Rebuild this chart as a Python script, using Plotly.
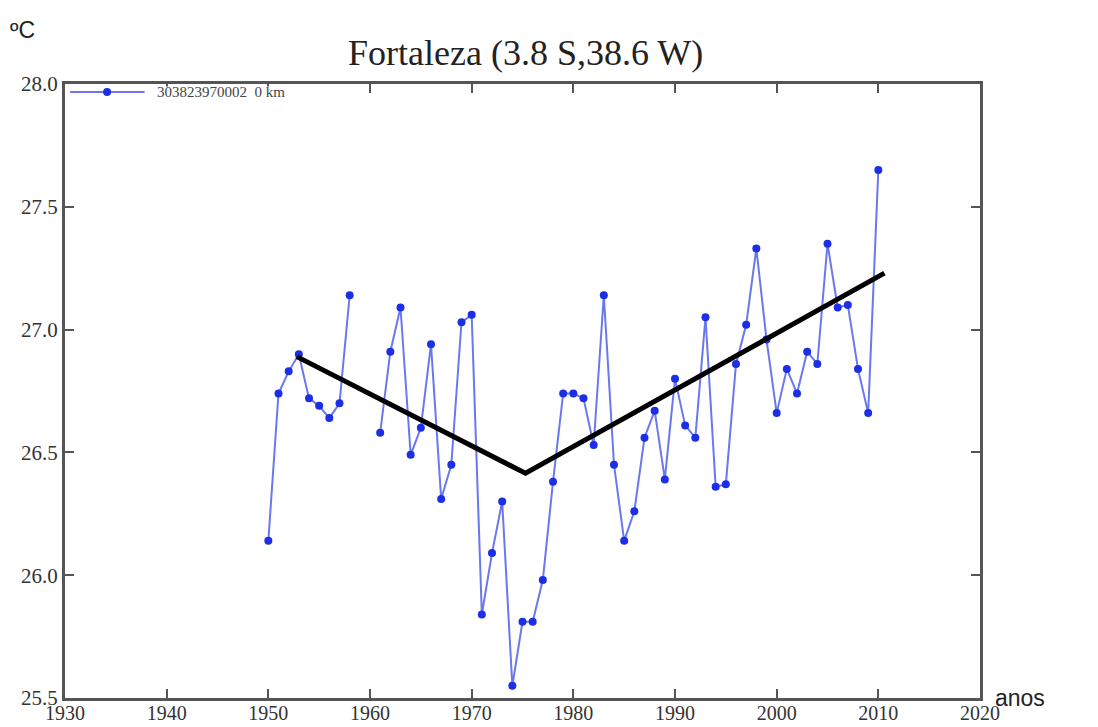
import plotly.graph_objects as go

# Annual mean temperature, Fortaleza station (None = missing year)
years = list(range(1950, 2011))
temps = [
    26.14, 26.74, 26.83, 26.90, 26.72, 26.69, 26.64, 26.70, 27.14, None,
    None, 26.58, 26.91, 27.09, 26.49, 26.60, 26.94, 26.31, 26.45, 27.03,
    27.06, 25.84, 26.09, 26.30, 25.55, 25.81, 25.81, 25.98, 26.38, 26.74,
    26.74, 26.72, 26.53, 27.14, 26.45, 26.14, 26.26, 26.56, 26.67, 26.39,
    26.80, 26.61, 26.56, 27.05, 26.36, 26.37, 26.86, 27.02, 27.33, 26.96,
    26.66, 26.84, 26.74, 26.91, 26.86, 27.35, 27.09, 27.10, 26.84, 26.66,
    27.65,
]

# Piecewise trend (cooling then warming)
trend_years = [1952.8, 1975.3, 2010.6]
trend_values = [26.89, 26.415, 27.23]

station_label = "303823970002  0 km"
x_ticks = list(range(1930, 2021, 10))
y_ticks = [25.5, 26.0, 26.5, 27.0, 27.5, 28.0]

line_blue = "#6a78ee"
marker_blue = "#1c2ee6"
frame = "#555555"
serif = "Liberation Serif, Times New Roman, serif"

fig = go.Figure()
fig.add_trace(go.Scatter(
    x=years, y=temps, mode="lines+markers",
    line=dict(color=line_blue, width=2),
    marker=dict(color=marker_blue, size=8),
    connectgaps=False, showlegend=False,
))
fig.add_trace(go.Scatter(
    x=trend_years, y=trend_values, mode="lines",
    line=dict(color="black", width=5),
    showlegend=False,
))

axis_common = dict(
    ticks="inside", ticklen=9, tickwidth=2, tickcolor=frame,
    showline=True, linecolor=frame, linewidth=3, mirror="ticks",
    showgrid=False, zeroline=False, automargin=False,
)

fig.update_layout(
    width=1098, height=727,
    margin=dict(l=65, r=118, t=84, b=29),
    paper_bgcolor="white", plot_bgcolor="white",
    xaxis=dict(range=[1930, 2020], tickvals=x_ticks, ticklabelstandoff=-5,
               tickfont=dict(family=serif, size=20, color="#333333"),
               **axis_common),
    yaxis=dict(range=[25.5, 28.0], tickvals=y_ticks, tickformat=".1f",
               ticklabelstandoff=0,
               tickfont=dict(family=serif, size=21, color="#333333"),
               **axis_common),
)

# Legend box (opaque, inside the top-left of the frame)
fig.add_shape(type="rect", xref="paper", yref="paper", layer="above",
              x0=0.003, x1=0.257, y0=0.974, y1=0.996,
              fillcolor="white", line=dict(width=0))
fig.add_shape(type="line", xref="paper", yref="paper", layer="above",
              x0=0.0055, x1=0.087, y0=0.987, y1=0.987,
              line=dict(color=line_blue, width=2))
fig.add_shape(type="circle", xref="paper", yref="paper", layer="above",
              xsizemode="pixel", ysizemode="pixel",
              xanchor=0.046, yanchor=0.987, x0=-4, x1=4, y0=-4, y1=4,
              fillcolor=marker_blue, line=dict(color=marker_blue, width=0))
fig.add_annotation(xref="paper", yref="paper", x=0.098, y=0.987,
                   xanchor="left", yanchor="middle", showarrow=False,
                   text=station_label,
                   font=dict(family=serif, size=15, color="#444444"))

# Title and unit labels
fig.add_annotation(xref="paper", yref="paper", x=0.503, y=1.05,
                   xanchor="center", yanchor="middle", showarrow=False,
                   text="Fortaleza (3.8 S,38.6 W)",
                   font=dict(family=serif, size=36, color="#222222"))
fig.add_annotation(xref="paper", yref="paper", x=-0.062, y=1.088,
                   xanchor="left", yanchor="middle", showarrow=False,
                   text="ºC",
                   font=dict(family="Liberation Sans", size=23, color="#222222"))
fig.add_annotation(xref="paper", yref="paper", x=1.014, y=0.0,
                   xanchor="left", yanchor="middle", showarrow=False,
                   text="anos",
                   font=dict(family="Liberation Sans", size=23, color="#222222"))

fig.write_html("out.html")
